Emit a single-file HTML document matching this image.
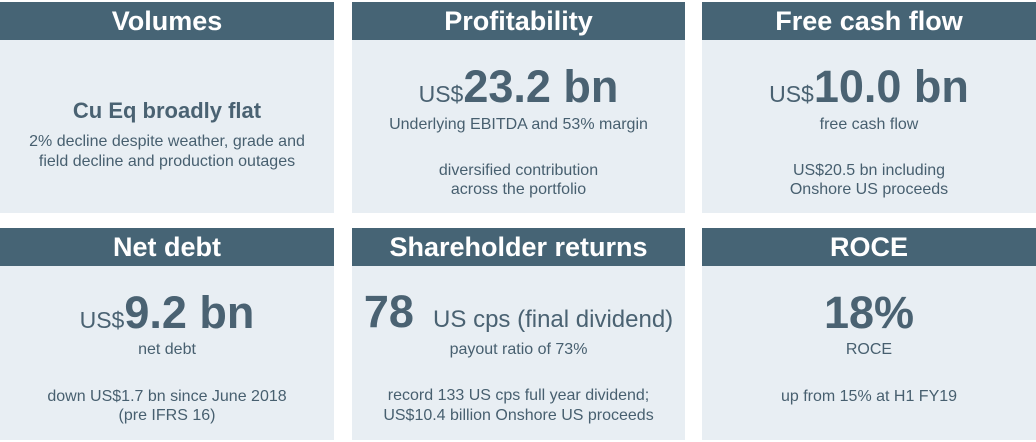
<!DOCTYPE html>
<html><head><meta charset="utf-8"><style>
*{margin:0;padding:0;box-sizing:border-box}
body{width:1036px;height:442px;background:#fff;font-family:"Liberation Sans",Arial,sans-serif;position:relative;overflow:hidden}
.card{position:absolute;background:#e8eef3}
.hd{position:absolute;left:0;right:0;top:0;height:38px;background:#466475;color:#fff;font-weight:bold;font-size:27px;line-height:38px;text-align:center}
.t{position:absolute;left:0;right:0;text-align:center;color:#475f6f;white-space:nowrap;height:30px;line-height:30px;margin-top:-15px}
.s{font-size:16px}
.big{font-size:45px;font-weight:bold;color:#4a6272}
.cur{font-size:23px;font-weight:normal}
.mid{font-size:22px;font-weight:bold;color:#4a6272}
</style></head><body>
<div class="card" style="left:0;top:2px;width:334px;height:211px">
<div class="hd">Volumes</div>
<div class="t mid" style="top:109px">Cu Eq broadly flat</div>
<div class="t s" style="top:140px">2% decline despite weather, grade and</div>
<div class="t s" style="top:160px">field decline and production outages</div>
</div>
<div class="card" style="left:352px;top:2px;width:333px;height:211px">
<div class="hd">Profitability</div>
<div class="t big" style="top:85px;height:50px;line-height:50px;margin-top:-25px"><span class="cur">US$</span>23.2 bn</div>
<div class="t s" style="top:123px">Underlying EBITDA and 53% margin</div>
<div class="t s" style="top:169px">diversified contribution</div>
<div class="t s" style="top:188px">across the portfolio</div>
</div>
<div class="card" style="left:702px;top:2px;width:334px;height:211px">
<div class="hd">Free cash flow</div>
<div class="t big" style="top:85px;height:50px;line-height:50px;margin-top:-25px"><span class="cur">US$</span>10.0 bn</div>
<div class="t s" style="top:123px">free cash flow</div>
<div class="t s" style="top:169px">US$20.5 bn including</div>
<div class="t s" style="top:188px">Onshore US proceeds</div>
</div>
<div class="card" style="left:0;top:228px;width:334px;height:212px">
<div class="hd">Net debt</div>
<div class="t big" style="top:85px;height:50px;line-height:50px;margin-top:-25px"><span class="cur">US$</span>9.2 bn</div>
<div class="t s" style="top:122px">net debt</div>
<div class="t s" style="top:169px">down US$1.7 bn since June 2018</div>
<div class="t s" style="top:188px">(pre IFRS 16)</div>
</div>
<div class="card" style="left:352px;top:228px;width:333px;height:212px">
<div class="hd">Shareholder returns</div>
<div class="t big" style="top:84px;height:50px;line-height:50px;margin-top:-25px">78 <span class="cur" style="font-size:24px">&nbsp;US cps (final dividend)</span></div>
<div class="t s" style="top:122px">payout ratio of 73%</div>
<div class="t s" style="top:168px">record 133 US cps full year dividend;</div>
<div class="t s" style="top:188px">US$10.4 billion Onshore US proceeds</div>
</div>
<div class="card" style="left:702px;top:228px;width:334px;height:212px">
<div class="hd">ROCE</div>
<div class="t big" style="top:85px;height:50px;line-height:50px;margin-top:-25px">18%</div>
<div class="t s" style="top:122px">ROCE</div>
<div class="t s" style="top:169px">up from 15% at H1 FY19</div>
</div>
</body></html>
